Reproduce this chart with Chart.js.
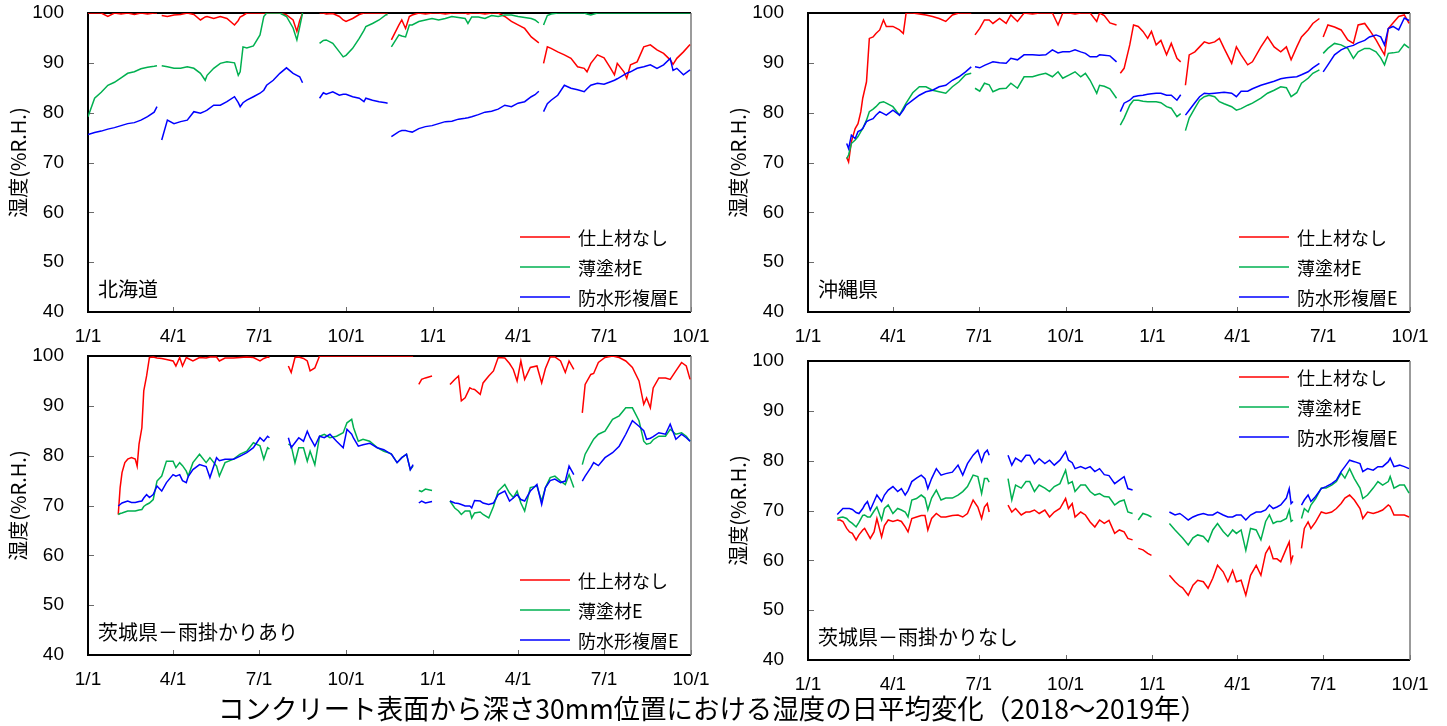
<!DOCTYPE html>
<html lang="ja">
<head>
<meta charset="utf-8">
<title>湿度の日平均変化</title>
<script src="https://cdn.jsdelivr.net/npm/chart.js@4.4.1/dist/chart.umd.min.js"></script>
<style>
  html, body { margin: 0; padding: 0; background: #fff; }
  #wrap { position: relative; width: 1447px; height: 726px; overflow: hidden; background: #fff; }
  canvas { position: absolute; }
  #titleText {
    position: absolute; left: 218px; top: 690px;
    font: 27px "Noto Sans CJK JP", sans-serif; line-height: 36px;
    color: #000; white-space: nowrap; transform-origin: 0 50%;
  }
</style>
</head>
<body>
<div id="wrap">
  <canvas id="tl" width="720" height="350" style="left:0;top:0"></canvas>
  <canvas id="tr" width="727" height="350" style="left:720px;top:0"></canvas>
  <canvas id="bl" width="720" height="350" style="left:0;top:343px"></canvas>
  <canvas id="br" width="727" height="350" style="left:720px;top:348px"></canvas>
  <span id="titleText">コンクリート表面から深さ30mm位置における湿度の日平均変化（2018～2019年）</span>
</div>
<script>
// days counted from 2018-01-01
const tickDays = [0, 90, 181, 273, 365, 455, 546, 638];
const tickLabels = ["1/1", "4/1", "7/1", "10/1", "1/1", "4/1", "7/1", "10/1"];
const seriesNames = ["仕上材なし", "薄塗材E", "防水形複層E"];
const seriesColors = ["#FF0000", "#00B050", "#0000FF"];

// 北海道
const tlDays = [0,7,14,21,28,35,42,49,56,63,
  70,73,75,78,84,91,98,105,112,119,
  124,126,133,140,147,155,159,161,164,168,
  175,182,186,189,196,203,210,217,221,224,
  227,236,245,249,252,259,266,270,273,280,
  287,292,294,301,308,315,317,319,321,329,
  332,336,340,343,350,357,364,371,378,385,
  392,399,402,406,413,420,427,434,441,448,
  455,462,469,473,477,480,482,486,490,497,
  504,511,518,525,528,532,539,546,553,557,
  560,567,570,574,581,588,595,602,609,616,
  619,623,630,637];
const tlRed = [100,100,100,99.3,100,99.8,100,99.7,100,99.8,
  100,100,null,99.5,99.3,99.6,99.7,100,99.7,98.6,
  99.2,99.3,98.9,99.3,98.9,97.6,98.5,99.2,99.5,100,
  100,100,100,100,100,100,99.6,98.6,96.3,98.5,
  100,null,100,100,99.8,99.9,99.3,98.6,98.3,98.9,
  99.7,100,100,100,100,100,100,null,94.6,97.6,
  98.6,96.9,99.3,99.6,100,99.8,100,100,99.8,100,
  100,100,99.8,100,100,99.8,100,100,99.3,98.3,
  97.6,96.9,95.2,94.6,94.0,null,89.9,93.2,92.9,92.2,
  91.6,90.9,89.2,88.9,88.2,89.9,91.6,91.0,88.9,87.6,
  89.9,88.2,86.9,89.6,90.2,93.2,93.6,92.6,91.9,90.6,
  89.7,90.9,92.2,93.7];
const tlGreen = [79.2,82.9,84.1,85.5,86.1,87.0,87.9,88.2,88.8,89.1,
  89.3,89.4,null,89.4,89.2,88.9,88.9,89.2,88.9,87.9,
  86.5,87.5,88.9,89.9,90.2,90.0,87.5,88.2,93.2,93.0,
  93.4,95.6,99.3,100,100,100,99.3,97.0,94.6,97.2,
  100,null,93.9,94.5,94.6,93.9,92.2,91.2,91.5,92.9,
  94.9,96.5,97.3,97.9,98.6,99.6,99.7,null,93.2,95.6,
  95.4,95.2,97.6,97.6,98.3,98.6,98.9,98.6,98.9,99.3,
  99.1,98.9,97.9,99.2,99.2,98.9,99.5,99.3,99.6,99.6,
  99.3,99.1,98.9,98.6,98.0,null,97.6,99.5,99.8,100,
  100,100,100,100,99.8,99.6,100,100,100,100,
  100,100,100,100,100,100,100,100,100,100,
  100,100,100,100];
const tlBlue = [75.6,76.0,76.3,76.7,77.0,77.4,77.8,78.0,78.5,79.2,
  80.1,81.2,null,74.5,78.5,77.8,78.2,78.5,80.2,79.9,
  80.3,80.5,81.5,81.5,82.2,83.2,82.0,81.2,82.0,82.5,
  83.2,83.9,84.5,85.5,86.5,87.9,89.0,87.9,87.5,87.2,
  86.0,null,82.9,84.0,83.7,84.2,83.5,83.7,83.7,83.2,
  82.9,82.2,82.9,82.5,82.2,82.0,81.9,null,75.2,76.2,
  76.4,76.4,76.2,76.1,76.8,77.2,77.4,77.8,78.2,78.3,
  78.7,78.9,79.0,79.2,79.6,80.1,80.3,80.7,81.5,81.2,
  81.9,82.2,83.2,83.6,84.3,null,80.2,81.8,82.5,83.5,
  85.5,84.9,84.6,84.2,84.8,85.5,85.9,85.7,86.2,86.5,
  86.8,87.6,87.9,88.2,88.9,89.2,89.6,88.9,89.6,90.9,
  88.5,88.9,87.6,88.6];

// 沖縄県
const trDays = [41,43,46,50,53,56,58,62,65,69,
  72,76,80,83,90,97,101,104,111,118,
  125,132,139,146,153,160,167,173,175,177,
  182,187,192,196,203,210,215,222,229,238,
  245,252,259,265,270,277,283,289,294,299,
  306,309,314,320,327,329,331,335,341,345,
  350,355,360,364,369,374,380,385,391,395,
  397,400,404,410,415,420,425,431,436,441,
  449,454,459,466,471,480,487,494,501,507,
  512,518,523,530,535,542,544,546,551,558,
  565,572,578,583,590,595,602,607,611,615,
  620,626,632,637];
const trRed = [71.0,70.1,74.2,76.8,77.8,80.2,82.9,86.2,94.9,95.2,
  95.9,96.6,98.6,97.3,97.3,96.6,95.9,100,100,99.8,
  99.6,99.3,98.9,98.3,99.6,100,100,100,null,95.6,
  96.9,98.6,98.6,97.9,98.9,97.9,99.6,98.3,100,99.8,
  100,100,100,97.6,100,100,99.8,100,100,100,
  98.3,100,99.5,98.0,97.6,null,87.9,88.9,93.6,97.6,
  97.3,96.3,94.9,96.3,93.6,94.5,91.6,93.9,90.9,90.2,
  null,85.5,91.6,92.2,93.2,94.2,93.9,94.2,94.9,92.9,
  89.9,93.2,91.6,89.6,90.2,93.2,95.2,93.2,92.2,93.2,
  90.6,93.2,95.2,96.6,97.9,98.9,null,95.2,97.6,97.2,
  96.6,94.6,93.9,97.6,97.9,96.6,94.6,92.9,91.6,96.9,
  98.0,99.3,99.6,97.9];
const trGreen = [70.8,71.5,73.8,74.5,75.2,76.2,76.8,78.5,80.2,80.7,
  81.2,82.0,82.2,81.9,81.2,79.5,80.9,81.9,84.0,85.2,
  85.2,84.5,84.2,83.9,85.2,86.2,87.6,87.9,null,84.9,
  84.3,85.9,85.6,84.2,84.8,84.9,85.9,84.9,87.2,87.2,
  87.6,87.9,87.2,88.2,86.9,87.6,88.2,87.2,87.9,86.5,
  83.9,85.5,85.3,84.8,82.9,null,77.5,78.9,81.5,82.5,
  82.5,82.3,82.2,82.2,82.2,82.0,81.2,80.9,79.2,79.8,
  null,76.4,78.9,80.9,82.5,83.2,83.5,83.2,82.2,81.8,
  81.2,80.5,80.8,81.5,81.9,82.9,83.9,84.5,85.2,85.0,
  83.2,84.0,85.9,86.9,87.9,88.6,null,91.9,92.9,93.9,
  93.6,92.9,90.9,92.2,92.9,92.9,92.2,91.0,89.6,91.9,
  92.0,92.2,93.7,93.0];
const trBlue = [73.8,72.8,75.5,74.8,76.2,76.5,76.8,78.2,78.5,78.8,
  79.5,80.2,79.8,79.5,80.5,79.5,80.5,81.5,82.5,83.5,
  84.2,84.5,85.2,85.5,86.5,87.2,88.2,89.2,null,89.2,
  89.0,89.5,89.9,90.2,90.0,89.9,90.9,90.6,91.6,91.6,
  91.5,91.6,92.6,92.0,92.2,92.2,92.6,92.2,91.9,91.2,
  91.2,91.6,91.5,91.4,90.2,null,80.2,81.9,82.5,83.2,
  83.4,83.5,83.7,83.8,83.9,83.9,83.5,83.5,82.5,83.6,
  null,79.5,80.5,82.0,83.2,83.9,83.8,83.9,84.0,84.1,
  83.9,83.2,84.3,84.3,84.8,85.5,85.9,86.3,86.8,87.0,
  87.1,87.2,87.6,88.2,89.0,89.9,null,88.2,89.6,91.6,
  92.6,93.2,93.5,94.0,94.5,95.2,95.6,95.2,93.6,96.9,
  97.3,96.6,99.0,98.5];

// 茨城県－雨掛かりあり
const blDays = [32,34,36,39,42,46,50,52,54,57,
  59,62,65,69,73,78,83,90,93,97,
  100,104,106,111,118,125,129,136,139,145,
  154,161,168,175,182,186,190,192,200,212,
  215,219,223,228,232,235,240,245,250,256,
  263,270,274,279,281,286,291,298,306,313,
  318,321,327,332,337,341,344,347,350,353,
  357,364,374,383,388,392,395,399,404,406,
  409,415,418,424,429,434,441,446,450,454,
  458,462,468,475,480,484,489,494,500,505,
  509,514,519,523,526,532,535,540,547,555,
  562,569,576,583,588,591,595,598,604,611,
  616,622,628,633,637];
const blRed = [68.2,73.6,76.6,78.6,79.3,79.6,79.3,77.9,82.3,85.6,
  93.0,96.0,99.7,99.8,99.6,99.5,99.3,99.0,98.0,99.7,
  98.0,99.7,99.5,99.0,99.7,99.6,99.8,99.8,99.0,99.6,
  99.6,99.7,99.8,99.7,99.0,99.5,99.8,99.7,null,98.0,
  96.7,99.7,99.8,99.5,99.0,97.0,97.6,100,100,100,
  100,100,100,100,100,100,100,100,100,100,
  100,100,100,100,100,100,100,null,94.3,95.3,
  95.6,96.0,null,94.3,95.3,96.0,91.0,91.6,93.6,93.4,
  93.3,92.3,94.6,96.0,97.0,99.7,99.6,98.5,97.3,95.0,
  99.0,95.3,97.7,98.0,94.6,97.5,99.8,99.8,99.0,96.7,
  99.0,97.3,null,88.6,94.3,96.3,96.5,98.7,99.7,100,
  99.7,99.0,97.7,95.0,90.3,91.6,89.6,93.6,95.6,95.6,
  95.3,97.0,98.7,98.0,95.3];
const blGreen = [68.2,68.4,68.5,68.7,68.9,68.9,68.9,69.0,69.1,69.2,
  69.8,70.2,70.5,71.2,74.9,75.9,78.9,78.9,77.6,78.6,
  78.0,76.9,75.9,78.6,80.3,78.6,79.6,77.9,75.9,78.6,
  79.3,80.3,80.9,82.6,82.0,79.3,81.6,81.3,null,82.3,
  82.0,78.6,81.6,81.6,78.9,80.9,78.2,83.9,84.3,83.6,
  83.9,84.6,86.6,87.3,85.6,82.9,83.3,82.9,81.6,80.9,
  80.6,80.3,78.6,79.6,80.3,77.2,77.9,null,73.0,72.8,
  73.3,73.0,null,70.9,69.5,68.9,68.2,68.9,68.9,67.5,
  68.5,68.7,68.2,67.5,69.8,72.9,74.2,72.5,71.6,72.9,
  70.5,68.9,73.6,73.9,70.9,73.6,75.6,75.9,74.9,74.2,
  76.2,73.6,null,78.2,80.3,82.3,83.3,84.3,84.9,87.3,
  88.0,89.6,89.6,87.0,82.9,82.3,82.5,83.2,83.9,83.9,
  85.3,84.3,84.6,83.9,82.9];
const blBlue = [69.9,70.2,70.5,70.7,70.9,70.6,70.6,70.7,70.8,70.9,
  71.5,72.2,71.6,72.2,73.9,72.9,74.6,76.2,75.9,76.2,
  75.0,74.6,75.8,77.2,78.2,77.8,75.6,79.6,79.0,79.3,
  79.3,79.9,80.6,81.6,83.6,82.9,83.9,83.6,null,83.6,
  81.6,82.6,83.6,82.9,84.9,83.6,81.9,83.9,83.6,84.3,
  82.9,81.6,85.3,84.3,83.5,81.9,82.2,82.5,81.6,81.2,
  80.6,80.3,78.6,79.6,80.3,77.2,78.2,null,70.5,70.9,
  70.5,70.8,null,70.9,70.5,70.4,70.2,69.9,69.9,69.5,
  71.0,70.9,70.5,70.2,70.5,72.2,72.9,70.9,71.5,72.2,
  71.2,70.9,72.9,74.2,70.2,73.6,75.0,75.3,74.6,74.9,
  77.9,76.2,null,74.9,75.9,77.6,78.6,78.0,79.6,80.6,
  81.9,84.3,87.0,85.9,85.0,83.3,83.5,83.8,84.6,84.3,
  86.3,83.3,84.3,83.6,82.9];

// 茨城県－雨掛かりなし
const brDays = [31,34,37,41,44,47,51,54,58,60,
  63,66,70,73,78,81,85,90,95,99,
  103,106,110,115,120,124,127,131,136,141,
  146,153,159,164,169,175,180,184,187,190,
  192,202,212,216,220,226,231,235,240,245,
  251,256,261,267,273,276,280,283,289,294,
  299,304,309,314,319,325,330,335,339,344,
  347,350,355,360,364,373,383,389,394,397,
  403,408,413,419,424,429,434,440,445,450,
  454,459,464,469,475,480,485,489,493,497,
  501,507,510,512,514,519,523,526,530,533,
  538,544,549,555,560,565,569,574,579,585,
  588,593,599,604,609,615,617,621,627,632,
  637];
const brRed = [68.1,68.1,67.8,66.4,65.7,65.4,64.1,65.1,66.1,66.4,
  65.4,64.4,65.7,68.4,64.7,67.0,68.1,67.8,68.1,67.8,
  66.7,65.7,68.4,68.7,69.0,69.0,66.1,68.4,69.4,68.7,
  68.7,69.0,69.1,68.7,69.4,72.1,70.7,68.4,70.7,71.4,
  69.7,null,71.1,69.7,70.4,69.1,69.7,69.7,70.1,69.4,
  70.1,68.7,69.7,70.4,72.4,70.4,71.4,68.7,69.7,69.1,
  67.7,66.7,68.1,67.4,68.0,65.4,66.1,65.7,64.4,64.1,
  null,62.4,62.1,61.4,61.0,null,57.0,55.7,54.8,54.5,
  53.0,55.0,56.0,55.7,54.4,56.4,59.0,57.7,55.7,58.0,
  55.7,56.0,53.0,57.0,59.0,57.0,61.4,62.7,60.3,60.3,
  59.7,62.4,63.7,59.7,61.0,null,62.4,66.4,67.7,66.4,
  67.7,69.7,69.4,69.7,70.4,71.4,72.5,73.1,72.1,70.4,
  68.4,69.7,69.4,69.7,70.1,71.1,70.8,69.1,69.1,69.1,
  68.7];
const brGreen = [68.4,68.6,68.7,68.4,67.8,67.4,66.7,67.6,69.0,69.1,
  68.7,68.7,69.9,70.7,68.1,70.4,71.1,69.4,70.4,70.1,
  69.7,68.7,72.1,72.4,73.1,72.5,70.1,72.5,74.1,72.1,
  72.5,72.5,73.1,73.8,74.8,77.1,76.8,73.4,76.4,76.4,
  75.7,null,76.4,72.1,75.1,74.5,75.8,75.8,73.8,75.1,
  74.5,73.8,74.8,75.4,78.1,75.4,75.8,73.8,75.1,75.1,
  73.8,73.1,73.4,72.8,72.7,71.1,71.8,72.1,69.7,69.4,
  null,68.1,69.4,69.1,68.7,null,67.4,66.1,65.1,64.5,
  63.1,64.5,65.1,64.8,63.7,66.1,67.4,65.8,64.8,66.1,
  65.4,66.1,62.0,66.4,66.1,64.1,67.8,69.1,67.4,67.8,
  67.8,68.4,70.1,67.8,68.1,null,68.4,70.4,69.7,71.1,
  72.4,74.5,74.5,75.1,75.8,77.5,76.5,78.4,76.4,74.5,
  72.4,73.1,74.5,75.8,75.1,75.8,76.8,74.5,75.1,75.1,
  73.5];
const brBlue = [69.2,69.8,70.4,70.4,70.4,70.2,69.6,69.4,70.4,71.1,
  71.8,70.1,71.8,73.1,71.8,73.1,74.1,74.8,73.8,74.4,
  73.1,74.0,75.8,76.5,77.1,76.4,74.4,76.4,78.4,77.1,
  77.4,77.7,79.1,77.1,79.4,81.1,82.1,79.8,81.5,82.1,
  81.1,null,81.1,79.1,80.5,79.8,81.1,81.1,79.4,80.4,
  79.4,80.1,79.1,80.1,81.8,80.1,79.6,78.4,78.8,78.4,
  78.8,77.8,78.4,77.2,77.0,75.4,76.1,76.8,74.4,74.1,
  null,null,null,null,null,null,69.7,69.1,69.4,69.0,
  68.1,68.7,69.1,69.4,69.1,69.1,69.7,69.1,68.7,68.7,
  69.1,69.1,68.1,69.1,69.7,69.7,70.1,71.1,70.4,70.7,
  71.1,72.5,74.4,71.4,71.8,null,71.1,72.1,73.1,71.8,
  72.8,74.4,74.8,75.4,76.1,77.8,78.8,80.1,79.8,79.4,
  77.8,78.4,78.1,78.8,78.8,79.8,80.5,78.8,79.1,78.8,
  78.4];

const jpFont = '"Noto Sans CJK JP", sans-serif';
const numFont = '"Liberation Sans", Arial, sans-serif';

// frame, inward tick marks, panel name and legend
const panelDecor = {
    id: "panelDecor",
    beforeDatasetsDraw(chart) {
        const ctx = chart.ctx;
        const a = chart.chartArea;
        const xs = chart.scales.x;
        const ys = chart.scales.y;
        ctx.save();
        ctx.strokeStyle = "#6b6b6b";
        ctx.lineWidth = 1;
        ys.ticks.forEach(function (t) {
            const py = Math.round(ys.getPixelForValue(t.value)) + 0.5;
            ctx.beginPath();
            ctx.moveTo(a.left, py);
            ctx.lineTo(a.left + 6, py);
            ctx.stroke();
        });
        xs.ticks.forEach(function (t) {
            const px = Math.round(xs.getPixelForValue(t.value)) + 0.5;
            ctx.beginPath();
            ctx.moveTo(px, a.bottom);
            ctx.lineTo(px, a.bottom - 5);
            ctx.stroke();
        });
        ctx.strokeStyle = "#000";
        ctx.lineWidth = 2;
        ctx.beginPath();
        ctx.moveTo(a.right, a.top);
        ctx.lineTo(a.left, a.top);
        ctx.lineTo(a.left, a.bottom);
        ctx.lineTo(a.right, a.bottom);
        ctx.stroke();
        ctx.strokeStyle = "#7a7a7a";
        ctx.lineWidth = 1.5;
        ctx.beginPath();
        ctx.moveTo(a.right, a.top);
        ctx.lineTo(a.right, a.bottom);
        ctx.stroke();
        ctx.restore();
    },
    afterDatasetsDraw(chart, args, opts) {
        const ctx = chart.ctx;
        const a = chart.chartArea;
        ctx.save();
        ctx.fillStyle = "#000";
        ctx.textBaseline = "middle";
        ctx.textAlign = "left";
        ctx.font = "20px " + jpFont;
        ctx.fillText(opts.label, a.left + 10, a.bottom - 23);

        ctx.font = "18px " + jpFont;
        chart.data.datasets.forEach(function (ds, i) {
            const y = opts.legendTop ? a.top + 16 + 30 * i : a.bottom - 75 + 30 * i;
            ctx.strokeStyle = ds.borderColor;
            ctx.lineWidth = 1.5;
            ctx.beginPath();
            ctx.moveTo(a.right - 171, y);
            ctx.lineTo(a.right - 121, y);
            ctx.stroke();
            ctx.fillText(ds.label, a.right - 113, y + 1);
        });
        ctx.restore();
    }
};

function toPoints(days, values) {
    return days.map(function (d, i) {
        return { x: d, y: values[i] };
    });
}

function makePanel(canvasId, days, red, green, blue, label, legendTop, padRight) {
    const values = [red, green, blue];
    const canvas = document.getElementById(canvasId);
    return new Chart(canvas.getContext("2d"), {
        type: "line",
        data: {
            datasets: values.map(function (vals, i) {
                return {
                    label: seriesNames[i],
                    data: toPoints(days, vals),
                    borderColor: seriesColors[i],
                    borderWidth: 1.5,
                    pointRadius: 0,
                    tension: 0,
                    fill: false,
                    spanGaps: false,
                    order: 3 - i
                };
            })
        },
        options: {
            responsive: false,
            animation: false,
            events: [],
            layout: { padding: { left: 0, top: 13, right: padRight, bottom: 0 } },
            plugins: {
                legend: { display: false },
                tooltip: { enabled: false },
                panelDecor: { label: label, legendTop: legendTop }
            },
            scales: {
                x: {
                    type: "linear",
                    min: 0,
                    max: 638,
                    afterBuildTicks: function (s) {
                        s.ticks = tickDays.map(function (v) { return { value: v }; });
                    },
                    afterFit: function (s) {
                        s.height = 38;
                        s.paddingLeft = 0;
                        s.paddingRight = 0;
                    },
                    ticks: {
                        autoSkip: false,
                        maxRotation: 0,
                        padding: 13,
                        color: "#000",
                        font: { family: numFont, size: 19 },
                        callback: function (v, i) { return tickLabels[i]; }
                    },
                    grid: { display: false, drawTicks: false },
                    border: { display: false }
                },
                y: {
                    min: 40,
                    max: 100,
                    afterFit: function (s) {
                        s.width = 88;
                        s.paddingTop = 0;
                        s.paddingBottom = 0;
                    },
                    ticks: {
                        stepSize: 10,
                        padding: 24,
                        color: "#000",
                        font: { family: numFont, size: 19 }
                    },
                    grid: { display: false, drawTicks: false },
                    border: { display: false },
                    title: {
                        display: true,
                        text: "湿度(%R.H.)",
                        color: "#000",
                        font: { family: jpFont, size: 20 },
                        padding: { top: 6, bottom: 0 }
                    }
                }
            }
        },
        plugins: [panelDecor]
    });
}

makePanel("tl", tlDays, tlRed, tlGreen, tlBlue, "北海道", false, 29);
makePanel("tr", trDays, trRed, trGreen, trBlue, "沖縄県", false, 37);
makePanel("bl", blDays, blRed, blGreen, blBlue, "茨城県－雨掛かりあり", false, 29);
makePanel("br", brDays, brRed, brGreen, brBlue, "茨城県－雨掛かりなし", true, 37);

// stretch the caption to the reference width
const titleEl = document.getElementById("titleText");
const titleWidth = titleEl.getBoundingClientRect().width;
if (titleWidth > 0) {
    titleEl.style.transform = "scaleX(" + (989 / titleWidth).toFixed(4) + ")";
}
</script>
</body>
</html>
